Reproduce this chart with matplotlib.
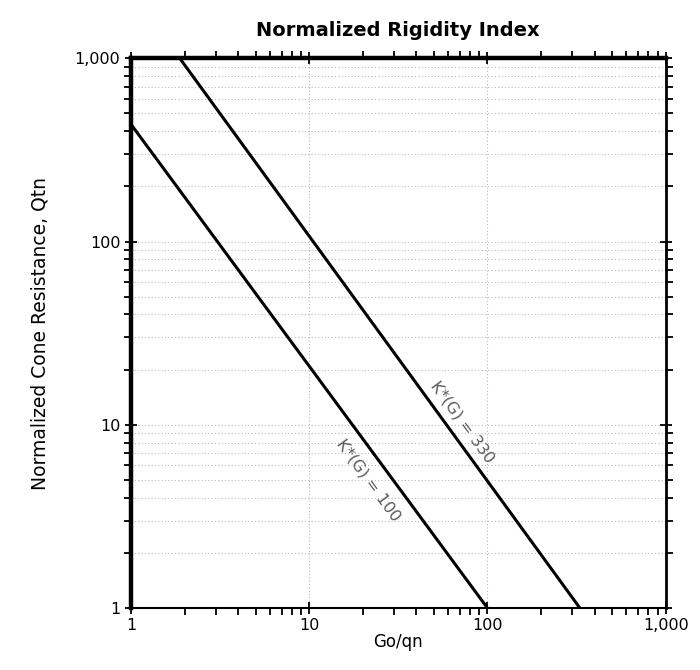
import matplotlib
matplotlib.use("Agg")
import matplotlib.pyplot as plt
from matplotlib.ticker import FixedLocator, LogLocator, NullFormatter

plt.rcParams['font.family'] = ['DejaVu Sans']

# K*(G) curves, endpoints
go_qn_100 = [1.0, 100.0]
qtn_100 = [437.0, 1.0]
go_qn_330 = [1.88, 330.0]
qtn_330 = [1000.0, 1.0]

curve_labels = ["K*(G) = 100", "K*(G) = 330"]
label_pos_x = [21.5, 72.0]
label_pos_y = [5.0, 10.4]

tick_vals = [1, 10, 100, 1000]
tick_text = ["1", "10", "100", "1,000"]

fig = plt.figure(figsize=(7, 6.7), dpi=100)
ax = fig.add_axes([0.187, 0.0925, 0.764, 0.8205])
ax.set_xscale('log')
ax.set_yscale('log')
ax.set_xlim(1, 1000)
ax.set_ylim(1, 1000)

# grid: horizontal dotted at every minor/major y, vertical only at majors
ax.yaxis.grid(True, which='both', color='#b8b8b8', linestyle=(0, (1, 2)), lw=0.8)
ax.xaxis.grid(True, which='major', color='#b8b8b8', linestyle=(0, (1, 2)), lw=0.8)
ax.set_axisbelow(True)

ax.plot(go_qn_100, qtn_100, color='black', lw=2.2, solid_capstyle='butt')
ax.plot(go_qn_330, qtn_330, color='black', lw=2.2, solid_capstyle='butt')

for txt, lx, ly in zip(curve_labels, label_pos_x, label_pos_y):
    ax.text(lx, ly, txt, rotation=-53.8, rotation_mode='anchor',
            ha='center', va='center', fontsize=11.5, color='#5a5a5a')

ax.xaxis.set_major_locator(FixedLocator(tick_vals))
ax.yaxis.set_major_locator(FixedLocator(tick_vals))
ax.set_xticklabels(tick_text)
ax.set_yticklabels(tick_text)
ax.xaxis.set_minor_locator(LogLocator(base=10, subs=range(2, 10)))
ax.yaxis.set_minor_locator(LogLocator(base=10, subs=range(2, 10)))
ax.xaxis.set_minor_formatter(NullFormatter())
ax.yaxis.set_minor_formatter(NullFormatter())

ax.tick_params(which='major', direction='inout', length=9, width=1.3,
               top=True, right=True, labelsize=11.5, pad=3)
ax.tick_params(which='minor', direction='out', length=5, width=1.3,
               top=True, right=True)

ax.spines['top'].set_linewidth(3.2)
ax.spines['left'].set_linewidth(3.2)
ax.spines['bottom'].set_linewidth(1.5)
ax.spines['right'].set_linewidth(2)

ax.set_xlabel("Go/qn", fontsize=12, labelpad=0)
ax.set_ylabel("Normalized Cone Resistance, Qtn", fontsize=13.5, labelpad=18)
ax.set_title("Normalized Rigidity Index", fontsize=14, fontweight='bold', pad=16)

fig.savefig("out.png", dpi=100)
